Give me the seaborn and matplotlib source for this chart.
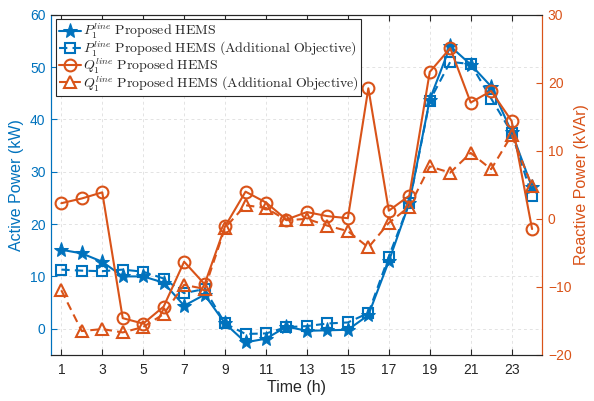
import numpy as np
import pandas as pd
import matplotlib
matplotlib.use("Agg")
import matplotlib.pyplot as plt
import seaborn as sns

# Hourly line power at node 1
hours = list(range(1, 25))
p_hems = [15.1, 14.4, 12.8, 10.0, 10.0, 8.8, 4.4, 6.5, 1.0, -2.6, -1.9, 0.4,
          -0.4, -0.3, -0.2, 2.6, 12.9, 24.0, 43.8, 54.0, 50.5, 46.3, 37.6, 27.0]
p_hems_add = [11.3, 11.1, 11.0, 11.3, 10.9, 9.6, 6.8, 7.6, 1.0, -1.0, -0.9, 0.3,
              0.5, 1.0, 1.2, 3.0, 13.8, 24.0, 43.6, 51.0, 50.6, 44.0, 37.5, 25.3]
q_hems = [2.3, 3.0, 3.9, -14.6, -15.4, -12.9, -6.3, -9.6, -1.1, 4.0, 2.4, -0.1,
          1.0, 0.4, 0.1, 19.2, 1.2, 3.4, 21.6, 25.1, 17.1, 18.8, 14.4, -1.5]
q_hems_add = [-10.5, -16.5, -16.2, -16.7, -15.9, -14.0, -9.7, -10.3, -1.3, 2.0, 1.6, -0.2,
              0.0, -1.0, -1.8, -4.2, -0.6, 1.8, 7.7, 6.8, 9.7, 7.3, 12.3, 4.8]

x_ticks = list(range(1, 24, 2))
p_ticks = list(range(0, 61, 10))
q_ticks = list(range(-20, 31, 10))

labels = [r"$P_1^{line}\ \mathrm{Proposed\ HEMS}$",
          r"$P_1^{line}\ \mathrm{Proposed\ HEMS\ (Additional\ Objective)}$",
          r"$Q_1^{line}\ \mathrm{Proposed\ HEMS}$",
          r"$Q_1^{line}\ \mathrm{Proposed\ HEMS\ (Additional\ Objective)}$"]

df = pd.DataFrame({"hour": hours, "p": p_hems, "p_add": p_hems_add,
                   "q": q_hems, "q_add": q_hems_add})

sns.set_theme(style="white")
plt.rcParams["font.family"] = ["Liberation Sans", "DejaVu Sans"]
plt.rcParams["mathtext.fontset"] = "cm"

blue = "#0072BD"
orange = "#D95319"
dash = (4, 2.5)

fig = plt.figure(figsize=(5.94, 4.01), dpi=100)
ax = fig.add_axes([0.086, 0.115, 0.827, 0.848])
ax2 = ax.twinx()

sns.lineplot(data=df, x="hour", y="p", ax=ax, color=blue, lw=1.5,
             marker="*", markersize=11, markerfacecolor=blue,
             markeredgecolor=blue, label=labels[0], legend=False)
sns.lineplot(data=df, x="hour", y="p_add", ax=ax, color=blue, lw=1.5,
             marker="s", markersize=7, markerfacecolor="none",
             markeredgecolor=blue, markeredgewidth=1.5, dashes=False,
             label=labels[1], legend=False)
ax.lines[-1].set_dashes(dash)

sns.lineplot(data=df, x="hour", y="q", ax=ax2, color=orange, lw=1.5,
             marker="o", markersize=8.5, markerfacecolor="none",
             markeredgecolor=orange, markeredgewidth=1.5,
             label=labels[2], legend=False)
sns.lineplot(data=df, x="hour", y="q_add", ax=ax2, color=orange, lw=1.5,
             marker="^", markersize=9, markerfacecolor="none",
             markeredgecolor=orange, markeredgewidth=1.5, dashes=False,
             label=labels[3], legend=False)
ax2.lines[-1].set_dashes(dash)

ax.set_xlim(0.5, 24.5)
ax.set_ylim(-5, 60)
ax2.set_ylim(-20, 30)
ax.set_xticks(x_ticks)
ax.set_yticks(p_ticks)
ax2.set_yticks(q_ticks)

ax.grid(True, linestyle=(0, (3, 3)), color="#e3e3e3", lw=0.7)
ax.set_axisbelow(True)

ax.set_xlabel("Time (h)", fontsize=11.5, color="#262626", labelpad=2)
ax.set_ylabel("Active Power (kW)", fontsize=11.5, color=blue, labelpad=4)
ax2.set_ylabel("Reactive Power (kVAr)", fontsize=11.5, color=orange, labelpad=2)

ax.tick_params(axis="x", direction="in", length=4, width=0.8, colors="#262626",
               labelsize=10, top=True, bottom=True, pad=6)
ax.tick_params(axis="y", direction="in", length=4, width=0.8, colors=blue,
               labelsize=10, left=True, right=False, pad=4)
ax2.tick_params(axis="y", direction="in", length=4, width=0.8, colors=orange,
                labelsize=10, right=True, left=False, pad=4)

for a in (ax, ax2):
    for s in a.spines.values():
        s.set_linewidth(0.8)
        s.set_color("#262626")
    a.spines["left"].set_color(blue)
    a.spines["right"].set_color(orange)

handles = ax.lines[:2] + ax2.lines[:2]
leg = ax2.legend(handles, labels, loc="upper left", bbox_to_anchor=(0.005, 0.995),
                 fontsize=10, frameon=True, fancybox=False, framealpha=1,
                 edgecolor="#262626", handlelength=1.6, handletextpad=0.1,
                 labelspacing=-0.12, borderpad=0.2, borderaxespad=0.2)
leg.get_frame().set_linewidth(0.8)

fig.savefig("out.png", dpi=100)
